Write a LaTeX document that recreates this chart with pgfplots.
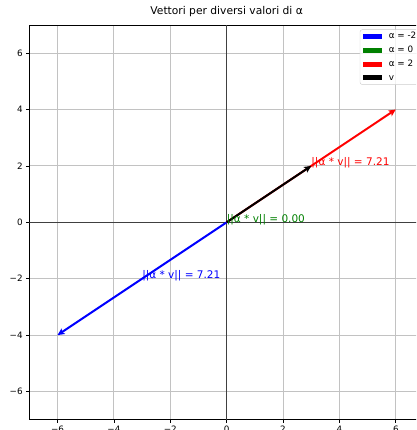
\documentclass[border=0pt]{standalone}
\usepackage{fontspec}
\setmainfont{DejaVu Sans}
\usepackage{pgfplots}
\pgfplotsset{compat=1.18}
\usetikzlibrary{arrows.meta}
\definecolor{mplgreen}{HTML}{008000}
\newcommand{\fs}{\fontsize{8.8}{10.6}\selectfont}
\newcommand{\fa}{\fontsize{10.5}{12.6}\selectfont}
\pgfplotsset{patch/.style={legend image code/.code={\fill[#1, draw=none, sharp corners, fill opacity=1] (0pt,-2.5pt) rectangle (18.7pt,2.5pt);}}}
\begin{document}
\begin{tikzpicture}
\useasboundingbox (-29.3pt,-10.3pt) rectangle (386.7pt,419.7pt);
\clip (-29.3pt,-10.3pt) rectangle (386.7pt,419.7pt);
\begin{axis}[
  at={(0pt,0pt)}, anchor=south west,
  scale only axis, width=394.7pt, height=394.8pt,
  xmin=-7, xmax=7, ymin=-7, ymax=7,
  xtick={-6,-4,-2,0,2,4,6}, ytick={-6,-4,-2,0,2,4,6},
  xticklabels={−6,−4,−2,0,2,4,6},
  yticklabels={−6,−4,−2,0,2,4,6},
  grid=major, major grid style={color=black!24, line width=0.8pt},
  axis line style={line width=0.7pt},
  tick align=outside, major tick length=3.1pt,
  tick style={black, line width=0.7pt},
  tick pos=left,
  ticklabel style={font=\fs},
  title={Vettori per diversi valori di α},
  title style={font=\fontsize{10.7}{12}\selectfont, at={(0.5,1)}, anchor=base, yshift=4.2pt, inner sep=0pt},
  legend cell align=left,
  legend style={at={(1,1)}, anchor=north east, xshift=-4.5pt, yshift=-4.5pt,
    draw=black!20, rounded corners=2.5pt, fill=white, fill opacity=0.8, text opacity=1,
    font=\fs, inner xsep=3.0pt, inner ysep=2.4pt, row sep=5.4pt, column sep=7.1pt,
    nodes={inner sep=0pt, text height=6.6pt, text depth=1.9pt}},
]
\addplot[black!75, line width=0.6pt, forget plot] coordinates {(-7,0) (7,0)};
\addplot[black!75, line width=0.6pt, forget plot] coordinates {(0,-7) (0,7)};
\addplot[blue, line width=2pt, -{Stealth[length=7pt,width=6.5pt,inset=1.5pt]}, patch=blue] coordinates {(0,0) (-6,-4)};
\addlegendentry{α = -2}
\addplot[draw=none, patch=mplgreen] coordinates {(0,0) (0,0)};
\addlegendentry{α = 0}
\addplot[red, line width=2pt, -{Stealth[length=7pt,width=6.5pt,inset=1.5pt]}, patch=red] coordinates {(0,0) (6,4)};
\addlegendentry{α = 2}
\addplot[black, line width=2pt, -{Stealth[length=7pt,width=6.5pt,inset=1.5pt]}, patch=black] coordinates {(0,0) (3,2)};
\addlegendentry{v}
\node[anchor=base west, inner sep=0pt, text=blue, font=\fa] at (axis cs:-3,-2) {||α * v|| = 7.21};
\node[anchor=base west, inner sep=0pt, text=mplgreen, font=\fa] at (axis cs:0,0) {||α * v|| = 0.00};
\node[anchor=base west, inner sep=0pt, text=red, font=\fa] at (axis cs:3,2) {||α * v|| = 7.21};
\end{axis}
\end{tikzpicture}
\end{document}
